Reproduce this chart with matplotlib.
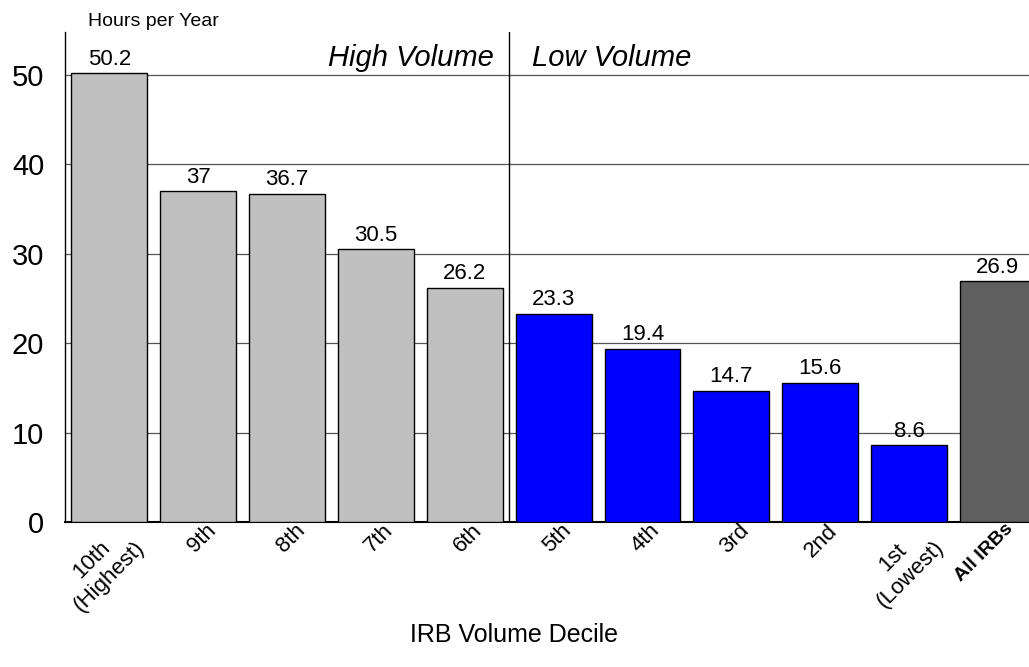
import matplotlib
matplotlib.use("Agg")
import matplotlib.pyplot as plt
from matplotlib.transforms import ScaledTranslation

categories = ["10th\n(Highest)", "9th", "8th", "7th", "6th", "5th", "4th", "3rd", "2nd", "1st\n(Lowest)", "All IRBs"]
values = [50.2, 37, 36.7, 30.5, 26.2, 23.3, 19.4, 14.7, 15.6, 8.6, 26.9]
value_labels = ["50.2", "37", "36.7", "30.5", "26.2", "23.3", "19.4", "14.7", "15.6", "8.6", "26.9"]
colors = ["#C0C0C0"] * 5 + ["#0000FF"] * 5 + ["#5F5F5F"]
yticks = [0, 10, 20, 30, 40, 50]

plt.rcParams['font.family'] = ['Liberation Sans', 'DejaVu Sans']

fig = plt.figure(figsize=(10.29, 6.67), dpi=100)
ax = fig.add_axes([65/1029, (667-522)/667, 1 - 65/1029, (522-32)/667])

x = list(range(len(values)))
ax.bar(x, values, width=0.855, color=colors, edgecolor="black", linewidth=1, zorder=3)
for xi, v, lab in zip(x, values, value_labels):
    ax.text(xi, v + 0.4, lab, ha="center", va="bottom", fontsize=16, zorder=4)

ax.set_xlim(-0.5, 10.35)
ax.set_ylim(0, 54.8)
ax.set_yticks(yticks)
ax.set_yticklabels([str(t) for t in yticks], fontsize=21)
ax.yaxis.grid(True, color="#555555", linewidth=0.9, zorder=0)
ax.tick_params(axis="y", length=0, pad=15)
ax.tick_params(axis="x", length=0, pad=0)

for s in ["top", "right"]:
    ax.spines[s].set_visible(False)
ax.spines["left"].set_linewidth(1.0)
ax.spines["bottom"].set_linewidth(1.5)

ax.axvline(4.5, color="black", linewidth=1, zorder=5)
ax.text(4.33, 50.35, "High Volume", ha="right", va="bottom", fontsize=21, style="italic")
ax.text(4.76, 50.35, "Low Volume", ha="left", va="bottom", fontsize=21, style="italic")

ax.set_xticks(x)
ax.set_xticklabels(categories, fontsize=16, rotation=45,
                   ha="right", va="top", rotation_mode="anchor", multialignment="center")
lbls = ax.get_xticklabels()
lbls[-1].set_fontweight("bold")
lbls[-1].set_fontsize(14)
offset = ScaledTranslation(0.07, 0.02, fig.dpi_scale_trans)
for lb in lbls:
    lb.set_transform(lb.get_transform() + offset)

fig.text(88/1029, 1 - 21/667, "Hours per Year", ha="left", va="center", fontsize=14)
fig.text(0.5, 1 - 635/667, "IRB Volume Decile", ha="center", va="center", fontsize=18)

fig.savefig("out.png", dpi=100)
